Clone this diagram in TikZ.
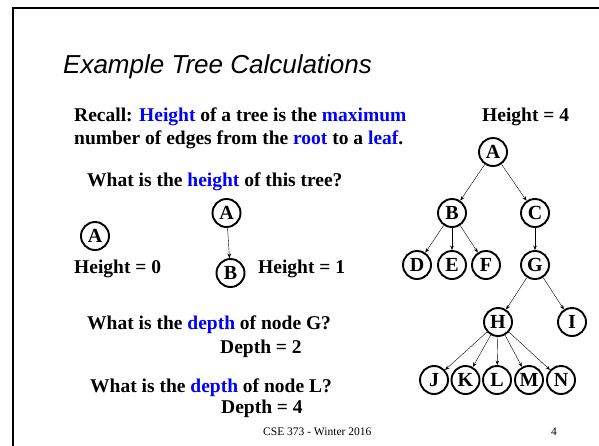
\documentclass[tikz,border=0pt]{standalone}
\usepackage{fontspec}
\setmainfont{Liberation Serif}
\newfontfamily\arialfont{Liberation Sans}
\usepackage{xcolor}
\usepackage{tikz}
\usetikzlibrary{arrows.meta}
\definecolor{ink}{HTML}{000000}
\definecolor{keyblue}{HTML}{0000FF}
\newcommand{\kw}[1]{\textcolor{keyblue}{#1}}

\begin{document}
\begin{tikzpicture}[x=1pt,y=-1pt]
    \tikzset{
      vert/.style={circle,draw=ink,line width=1.9pt,minimum size=28pt,inner sep=0pt,font=\bfseries\fontsize{20}{22}\selectfont},
      bodytext/.style={anchor=base west,inner sep=0pt,font=\bfseries\fontsize{19.5}{23}\selectfont},
      foot/.style={anchor=base west,inner sep=0pt,font=\fontsize{11.5}{13}\selectfont},
      link/.style={-{Stealth[length=4.5pt,width=3.5pt]},draw=ink,line width=0.4pt}
    }
    \useasboundingbox (0,0) rectangle (599,445);
    \draw[line width=2pt] (13,446) -- (13,8) -- (600,8);
    \node[anchor=base west,inner sep=0pt,font=\arialfont\itshape\fontsize{26}{30}\selectfont] (title) at (63,73) {Example Tree Calculations};
    \node[bodytext] (recall) at (74,121) {Recall: \kw{Height} of a tree is the \kw{maximum}};
    \node[bodytext] (recall2) at (74,144) {number of edges from the \kw{root} to a \kw{leaf}.};
    \node[bodytext] (hfour) at (482,121) {Height = 4};
    \node[bodytext] (ask) at (87,186) {What is the \kw{height} of this tree?};
    \node[bodytext] (hzero) at (74,273) {Height = 0};
    \node[bodytext] (hone) at (258,273) {Height = 1};
    \node[bodytext] (askg) at (87,329) {What is the \kw{depth} of node G?};
    \node[bodytext] (dtwo) at (220,353) {Depth = 2};
    \node[bodytext] (askl) at (90,392) {What is the \kw{depth} of node L?};
    \node[bodytext] (dfour) at (221,413) {Depth = 4};
    \node[foot] (course) at (263,435) {CSE 373 - Winter 2016};
    \node[foot] (page) at (551,435) {4};
    % one-node and two-node trees
    \node[vert] (sa) at (95,236) {A};
    \node[vert] (ta) at (226.5,213) {A};
    \node[vert] (tb) at (230.5,273) {B};
    \draw[link] (ta) -- (tb);
    % big tree
    \node[vert] (a) at (493,152) {A};
    \node[vert] (b) at (452,213) {B};
    \node[vert] (c) at (535,213) {C};
    \node[vert] (d) at (417,265) {D};
    \node[vert] (e) at (452,265) {E};
    \node[vert] (f) at (486,265) {F};
    \node[vert] (g) at (535,265) {G};
    \node[vert] (h) at (498,322) {H};
    \node[vert] (i) at (572,322) {I};
    \node[vert] (j) at (434,380) {J};
    \node[vert] (k) at (465.5,380) {K};
    \node[vert] (l) at (497,380) {L};
    \node[vert] (m) at (529,380) {M};
    \node[vert] (n) at (561,380) {N};
    \draw[link] (a) -- (b);
    \draw[link] (a) -- (c);
    \draw[link] (b) -- (d);
    \draw[link] (b) -- (e);
    \draw[link] (b) -- (f);
    \draw[link] (c) -- (g);
    \draw[link] (g) -- (h);
    \draw[link] (g) -- (i);
    \draw[link] (h) -- (j);
    \draw[link] (h) -- (k);
    \draw[link] (h) -- (l);
    \draw[link] (h) -- (m);
    \draw[link] (h) -- (n);
  \end{tikzpicture}
\end{document}
